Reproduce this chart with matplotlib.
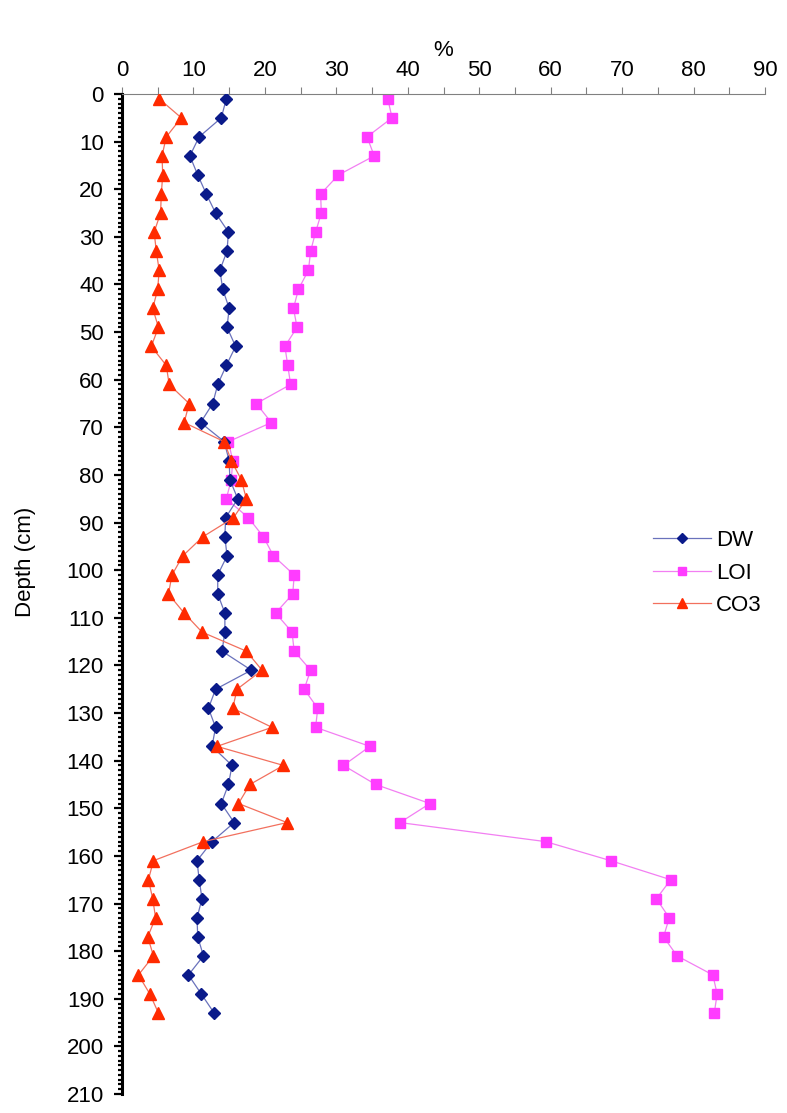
import matplotlib
matplotlib.use("Agg")
import matplotlib.pyplot as plt
from matplotlib.ticker import MultipleLocator

plt.rcParams['font.family'] = ['Liberation Sans', 'DejaVu Sans']

# sample depths (cm), every 4 cm
depth = list(range(1, 194, 4))

dw = [14.6, 13.9, 10.8, 9.5, 10.6, 11.8, 13.1, 14.9, 14.7, 13.7,
      14.1, 15.0, 14.7, 15.9, 14.6, 13.4, 12.7, 11.0, 14.3, 15.0,
      15.1, 16.2, 14.5, 14.4, 14.7, 13.4, 13.4, 14.4, 14.4, 14.0,
      18.1, 13.1, 12.1, 13.1, 12.6, 15.4, 14.9, 13.9, 15.7, 12.6,
      10.5, 10.8, 11.2, 10.5, 10.6, 11.4, 9.3, 11.1, 12.9]

loi = [37.2, 37.8, 34.3, 35.3, 30.3, 27.8, 27.9, 27.1, 26.4, 26.1,
       24.7, 24.0, 24.5, 22.8, 23.2, 23.6, 18.8, 20.9, 14.9, 15.5,
       15.3, 14.6, 17.7, 19.8, 21.2, 24.1, 23.9, 21.5, 23.8, 24.1,
       26.4, 25.5, 27.4, 27.1, 34.7, 31.0, 35.5, 43.1, 38.9, 59.3,
       68.4, 76.8, 74.8, 76.6, 75.8, 77.7, 82.7, 83.3, 82.9]

co3 = [5.2, 8.3, 6.2, 5.6, 5.7, 5.5, 5.4, 4.5, 4.8, 5.2,
       5.0, 4.3, 5.1, 4.1, 6.2, 6.6, 9.4, 8.7, 14.3, 15.3,
       16.7, 17.4, 15.6, 11.3, 8.5, 7.0, 6.5, 8.7, 11.2, 17.4,
       19.6, 16.1, 15.5, 21.0, 13.3, 22.6, 17.9, 16.3, 23.1, 11.4,
       4.4, 3.7, 4.3, 4.7, 3.6, 4.4, 2.3, 3.9, 5.1]

fig = plt.figure(figsize=(7.87, 11.13), dpi=100)
ax = fig.add_axes([122 / 787, 1 - 1094 / 1113, (765 - 122) / 787, 1000 / 1113])

ax.plot(dw, depth, color='#6a72bc', lw=0.9, marker='D', ms=6.3,
        mfc='#0a1a8a', mec='#0a1a8a', label='DW', zorder=3)
ax.plot(loi, depth, color='#f27ff2', lw=0.9, marker='s', ms=6.8,
        mfc='#ff3cff', mec='#ff3cff', label='LOI', zorder=2)
ax.plot(co3, depth, color='#f2705e', lw=0.9, marker='^', ms=8.3,
        mfc='#ff2a00', mec='#ff2a00', label='CO3', zorder=4)

ax.set_xlim(0, 90)
ax.set_ylim(210, 0)

# percent axis on top
ax.xaxis.set_ticks_position('top')
ax.xaxis.set_label_position('top')
ax.xaxis.set_major_locator(MultipleLocator(10))
ax.xaxis.set_minor_locator(MultipleLocator(5))
ax.tick_params(axis='x', which='both', direction='out', length=5,
               width=0.8, color='#808080', labelsize=16, pad=4)
ax.set_xlabel('%', fontsize=16, labelpad=3)

# depth axis, ticks every cm
ax.yaxis.set_major_locator(MultipleLocator(10))
ax.yaxis.set_minor_locator(MultipleLocator(1))
ax.tick_params(axis='y', which='major', direction='out', length=6,
               width=1.6, color='black', labelsize=16, pad=7)
ax.tick_params(axis='y', which='minor', direction='out', length=3.2,
               width=1.6, color='black')
ax.set_ylabel('Depth (cm)', fontsize=16)
ax.yaxis.set_label_coords(-0.134, 0.532)

ax.spines['right'].set_visible(False)
ax.spines['bottom'].set_visible(False)
ax.spines['top'].set_color('#808080')
ax.spines['top'].set_linewidth(0.8)
ax.spines['left'].set_linewidth(2.2)

ax.legend(loc='upper left', bbox_to_anchor=(653 / 787, 1 - 530 / 1113),
          bbox_transform=fig.transFigure, frameon=False, fontsize=16,
          handlelength=2.6, handletextpad=0.25, labelspacing=0.52,
          borderpad=0, borderaxespad=0, markerscale=0.8)

fig.savefig('out.png', dpi=100, facecolor='white')
